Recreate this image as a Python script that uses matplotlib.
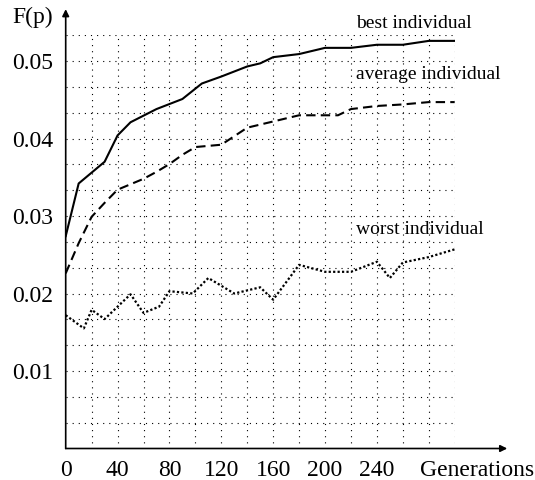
import matplotlib
matplotlib.use('Agg')
import matplotlib.pyplot as plt
import numpy as np

plt.rcParams['font.family'] = ['Liberation Serif', 'DejaVu Serif']

best_x = [0, 10, 30, 40, 50, 70, 90, 105, 120, 140, 150, 160, 180, 200, 220, 240, 260, 280, 300]
best_y = [0.0274, 0.0342, 0.0370, 0.0404, 0.0421, 0.0438, 0.0451, 0.0471, 0.0480, 0.0493,
          0.0497, 0.0505, 0.0509, 0.0517, 0.0517, 0.0521, 0.0521, 0.0526, 0.0526]

avg_x = [0, 10, 20, 30, 40, 60, 70, 80, 90, 100, 120, 140, 150, 160, 180, 210, 220, 240, 260, 280, 300]
avg_y = [0.0226, 0.0265, 0.0299, 0.0317, 0.0334, 0.0348, 0.0357, 0.0367, 0.0379, 0.0389,
         0.0392, 0.0414, 0.0418, 0.0422, 0.0430, 0.0430, 0.0438, 0.0442, 0.0444, 0.0447, 0.0447]

worst_x = [0, 14, 20, 30, 50, 60, 72, 80, 98, 110, 130, 140, 150, 160, 180, 200, 220, 240, 250, 260, 280, 300]
worst_y = [0.0172, 0.0155, 0.0179, 0.0167, 0.0199, 0.0175, 0.0183, 0.0203, 0.0200, 0.0220,
           0.0200, 0.0204, 0.0208, 0.0192, 0.0237, 0.0228, 0.0228, 0.0241, 0.0220, 0.0240,
           0.0247, 0.0257]

x_ticks = [0, 40, 80, 120, 160, 200, 240]
y_ticks = [0.01, 0.02, 0.03, 0.04, 0.05]
y_tick_labels = ['0.01', '0.02', '0.03', '0.04', '0.05']

fig = plt.figure(figsize=(5.35, 4.8), dpi=100)
W, H = 535, 480
ax = fig.add_axes([65.7 / W, (H - 448.5) / H, 389 / W, 413.3 / H])
ax.set_xlim(0, 300)
ax.set_ylim(0, 0.16 / 3)

# grid
for gx in np.arange(20, 301, 20):
    ax.axvline(gx, color='black', lw=0.8, ls=(0, (1, 4.5)), zorder=1)
for k in range(1, 17):
    ax.axhline(k * 0.01 / 3, color='black', lw=0.8, ls=(0, (1, 4.5)), zorder=1)

ax.plot(best_x, best_y, color='black', lw=1.5, solid_joinstyle='round', zorder=3)
ax.plot(avg_x, avg_y, color='black', lw=1.5, ls=(0, (4.5, 2.5)), zorder=3)
ax.plot(worst_x, worst_y, color='black', lw=1.6, ls=(0, (1, 1)), zorder=3)

for s in ax.spines.values():
    s.set_visible(False)
ax.tick_params(length=0)
ax.set_xticks(x_ticks)
ax.set_xticklabels([str(v) for v in x_ticks], fontsize=17)
ax.set_yticks(y_ticks)
ax.set_yticklabels(y_tick_labels, fontsize=17)
ax.tick_params(axis='x', pad=8)
ax.tick_params(axis='y', pad=9)

# axes with arrows
ax.annotate('', xy=(1.135, 0), xytext=(0, 0), xycoords='axes fraction',
            arrowprops=dict(arrowstyle='-|>', color='black', lw=1.2, mutation_scale=10,
                            shrinkA=0, shrinkB=0), annotation_clip=False)
ax.annotate('', xy=(0, 1.063), xytext=(0, 0), xycoords='axes fraction',
            arrowprops=dict(arrowstyle='-|>', color='black', lw=1.2, mutation_scale=10,
                            shrinkA=0, shrinkB=0), annotation_clip=False)

fig.text(477 / W, 1 - 470 / H, 'Generations', fontsize=17, ha='center', va='center')
fig.text(33 / W, 1 - 17 / H, 'F(p)', fontsize=17, ha='center', va='center')

ax.text(224, 0.0548, 'best individual', fontsize=14, ha='left', va='center')
ax.text(224, 0.0482, 'average individual', fontsize=14, ha='left', va='center')
ax.text(224, 0.0282, 'worst individual', fontsize=14, ha='left', va='center')

fig.savefig('out.png', dpi=100)
